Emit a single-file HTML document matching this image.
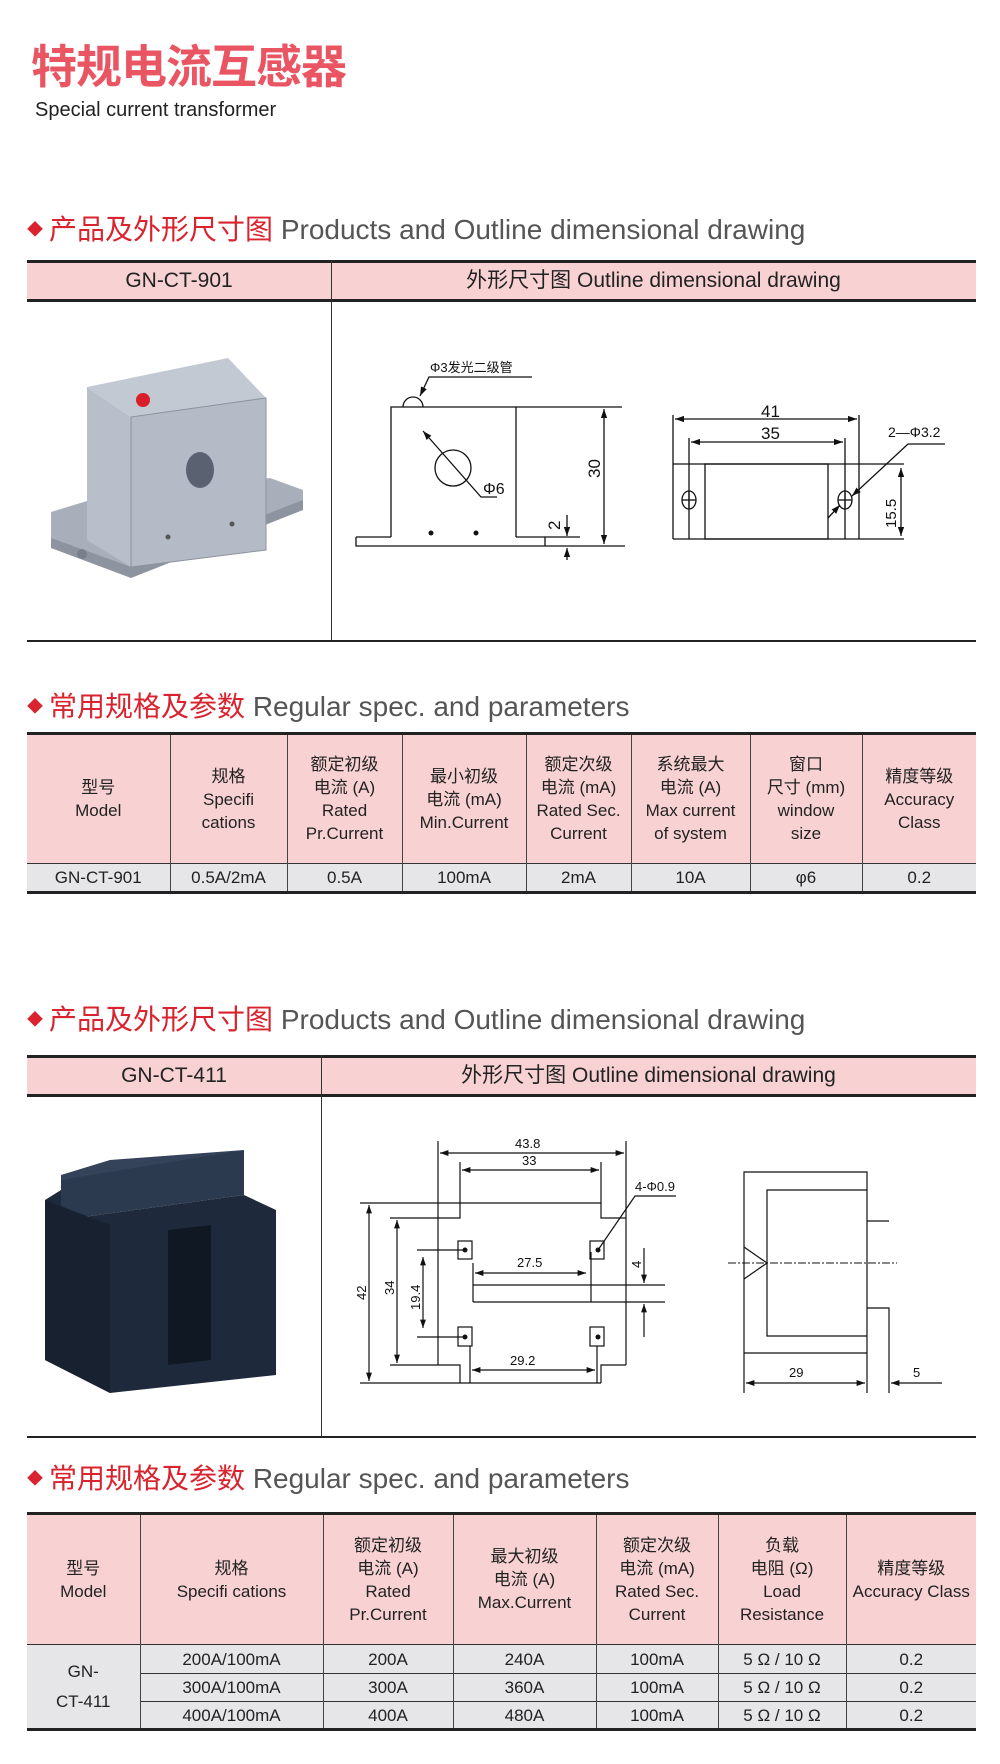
<!DOCTYPE html>
<html><head><meta charset="utf-8">
<style>
*{margin:0;padding:0;box-sizing:border-box}
body{width:1000px;height:1764px;background:#fff;position:relative;font-family:"Liberation Sans","Noto Sans CJK SC",sans-serif;overflow:hidden}
.abs{position:absolute}
.sec{position:absolute;left:27px;font-size:28px;white-space:nowrap;line-height:34px}
.sec .d{color:#d9232e;font-size:16px;vertical-align:4px;margin-right:6px}
.sec .cn{color:#d9232e}
.sec .en{color:#555}
.hb{position:absolute;text-align:center;font-size:21px;color:#222;line-height:36px;height:36px}
table{position:absolute;left:27px;width:949px;border-collapse:collapse;table-layout:fixed;border-top:3px solid #222;border-bottom:3px solid #222}
td{border-left:1px solid #444;border-right:1px solid #444;text-align:center;color:#222;font-size:17px;line-height:23px;padding:0}
td:first-child{border-left:none}td:last-child{border-right:none}
tr.h td{background:#f8d2d2}
tr.r td{background:#e6e6e8;border-top:1px solid #333}
</style></head><body>
<div class="abs" style="left:31px;top:37px;font-size:46px;color:#ea5563;font-weight:bold;font-family:'Noto Sans CJK SC',sans-serif;letter-spacing:-1px;line-height:54px">特规电流互感器</div>
<div class="abs" style="left:35px;top:99px;font-size:20px;color:#222">Special current transformer</div>

<div class="sec" style="top:213px"><span class="d">◆</span><span class="cn">产品及外形尺寸图</span> <span class="en">Products and Outline dimensional drawing</span></div>
<div class="sec" style="top:690px"><span class="d">◆</span><span class="cn">常用规格及参数</span> <span class="en">Regular spec. and parameters</span></div>
<div class="sec" style="top:1003px"><span class="d">◆</span><span class="cn">产品及外形尺寸图</span> <span class="en">Products and Outline dimensional drawing</span></div>
<div class="sec" style="top:1462px"><span class="d">◆</span><span class="cn">常用规格及参数</span> <span class="en">Regular spec. and parameters</span></div>

<!-- header bars -->
<div class="abs" style="left:27px;top:260px;width:949px;height:42px;background:#f8d2d2;border-top:3px solid #222;border-bottom:3px solid #222"></div>
<div class="hb" style="left:27px;top:263px;width:304px">GN-CT-901</div>
<div class="hb" style="left:331px;top:263px;width:645px">外形尺寸图 Outline dimensional drawing</div>
<div class="abs" style="left:331px;top:260px;width:1px;height:381px;background:#333"></div>
<div class="abs" style="left:27px;top:640px;width:949px;height:2px;background:#222"></div>

<div class="abs" style="left:27px;top:1055px;width:949px;height:42px;background:#f8d2d2;border-top:3px solid #222;border-bottom:3px solid #222"></div>
<div class="hb" style="left:27px;top:1058px;width:294px">GN-CT-411</div>
<div class="hb" style="left:321px;top:1058px;width:655px">外形尺寸图 Outline dimensional drawing</div>
<div class="abs" style="left:321px;top:1055px;width:1px;height:382px;background:#333"></div>
<div class="abs" style="left:27px;top:1436px;width:949px;height:2px;background:#222"></div>

<table style="top:732px">
<colgroup><col style="width:143px"><col style="width:117px"><col style="width:115px"><col style="width:124px"><col style="width:105px"><col style="width:119px"><col style="width:112px"><col style="width:114px"></colgroup>
<tr class="h" style="height:130px"><td>型号<br>Model</td><td>规格<br>Specifi<br>cations</td><td>额定初级<br>电流 (A)<br>Rated<br>Pr.Current</td><td>最小初级<br>电流 (mA)<br>Min.Current</td><td>额定次级<br>电流 (mA)<br>Rated Sec.<br>Current</td><td>系统最大<br>电流 (A)<br>Max current<br>of system</td><td>窗口<br>尺寸 (mm)<br>window<br>size</td><td>精度等级<br>Accuracy<br>Class</td></tr>
<tr class="r" style="height:29px"><td>GN-CT-901</td><td>0.5A/2mA</td><td>0.5A</td><td>100mA</td><td>2mA</td><td>10A</td><td>φ6</td><td>0.2</td></tr>
</table>

<table style="top:1512px">
<colgroup><col style="width:113px"><col style="width:183px"><col style="width:130px"><col style="width:143px"><col style="width:122px"><col style="width:128px"><col style="width:130px"></colgroup>
<tr class="h" style="height:131px"><td>型号<br>Model</td><td>规格<br>Specifi cations</td><td>额定初级<br>电流 (A)<br>Rated<br>Pr.Current</td><td>最大初级<br>电流 (A)<br>Max.Current</td><td>额定次级<br>电流 (mA)<br>Rated Sec.<br>Current</td><td>负载<br>电阻 (Ω)<br>Load<br>Resistance</td><td>精度等级<br>Accuracy Class</td></tr>
<tr class="r" style="height:29px"><td rowspan="3" style="line-height:30px">GN-<br>CT-411</td><td>200A/100mA</td><td>200A</td><td>240A</td><td>100mA</td><td>5 Ω / 10 Ω</td><td>0.2</td></tr>
<tr class="r" style="height:28px"><td>300A/100mA</td><td>300A</td><td>360A</td><td>100mA</td><td>5 Ω / 10 Ω</td><td>0.2</td></tr>
<tr class="r" style="height:28px"><td>400A/100mA</td><td>400A</td><td>480A</td><td>100mA</td><td>5 Ω / 10 Ω</td><td>0.2</td></tr>
</table>

<svg class="abs" style="left:0;top:0" width="1000" height="1764" viewBox="0 0 1000 1764" font-family="Liberation Sans, Noto Sans CJK SC, sans-serif">
<defs><marker id="a" viewBox="0 0 10 10" refX="10" refY="5" markerWidth="7" markerHeight="7" orient="auto-start-reverse"><path d="M0,1.5 L10,5 L0,8.5z" fill="#111"/></marker></defs>

<!-- photo 1 -->
<polygon points="51,512 100,497 270,478 303,490 303,508 131,575 51,545" fill="#a9afba"/>
<polygon points="51,538 131,567 303,500 303,510 131,578 51,548" fill="#8e949f"/>
<polygon points="87,387 131,417 131,567 87,540" fill="#b9bfca"/>
<polygon points="87,387 228,358 266,398 131,417" fill="#c3c9d3"/>
<polygon points="131,417 266,398 266,550 131,567" fill="#b5bbc6" stroke="#8d939e"/>
<circle cx="143" cy="400" r="7" fill="#d81f2a"/>
<ellipse cx="200" cy="470" rx="14" ry="18" fill="#5a6170"/>
<circle cx="82" cy="554" r="5" fill="#7a808b"/><circle cx="168" cy="537" r="2.5" fill="#555"/><circle cx="232" cy="524" r="2.5" fill="#555"/>

<!-- drawing 1 left -->
<g stroke="#111" stroke-width="1.3" fill="none">
<polyline points="391,537 391,407 622,407"/>
<line x1="516" y1="407" x2="516" y2="537"/>
<polyline points="356,537 391,537"/><polyline points="356,537 356,546 625,546"/>
<line x1="516" y1="537" x2="580" y2="537"/>
<line x1="545" y1="537" x2="545" y2="546"/>
<line x1="604" y1="409" x2="604" y2="544" marker-start="url(#a)" marker-end="url(#a)"/>
<line x1="567" y1="515" x2="567" y2="536" marker-end="url(#a)"/>
<line x1="567" y1="560" x2="567" y2="548" marker-end="url(#a)"/>
<circle cx="453" cy="468" r="18"/>
<polyline points="423,431 481,497 497,497" marker-start="url(#a)"/>
<path d="M403,407 A10,10 0 0 1 423,407"/>
<polyline points="532,377 429,377 420,396" marker-end="url(#a)"/>
<!-- right -->
<line x1="673" y1="464" x2="904" y2="464"/><line x1="673" y1="539" x2="904" y2="539"/>
<line x1="673" y1="415" x2="673" y2="539"/><line x1="859" y1="415" x2="859" y2="539"/>
<rect x="705" y="464" width="123" height="75"/>
<line x1="675" y1="419" x2="857" y2="419" marker-start="url(#a)" marker-end="url(#a)"/>
<line x1="689" y1="438" x2="689" y2="539"/><line x1="845" y1="438" x2="845" y2="539"/>
<line x1="691" y1="442" x2="843" y2="442" marker-start="url(#a)" marker-end="url(#a)"/>
<ellipse cx="689" cy="500" rx="7" ry="9"/><line x1="682" y1="500" x2="696" y2="500"/><line x1="689" y1="492" x2="689" y2="508"/>
<ellipse cx="845" cy="500" rx="7" ry="9"/><line x1="838" y1="500" x2="852" y2="500"/><line x1="845" y1="492" x2="845" y2="508"/>
<polyline points="945,444 908,444 852,496" marker-end="url(#a)"/>
<line x1="828" y1="518" x2="840" y2="505" marker-end="url(#a)"/>
<line x1="901" y1="468" x2="901" y2="536" marker-start="url(#a)" marker-end="url(#a)"/>
</g>
<circle cx="431" cy="533" r="2.5" fill="#111"/><circle cx="476" cy="533" r="2.5" fill="#111"/>
<g fill="#111" font-size="14">
<text x="430" y="372" font-size="13">Φ3发光二级管</text>
<text x="483" y="494" font-size="16">Φ6</text>
<text x="0" y="0" font-size="17" transform="translate(600,478) rotate(-90)">30</text>
<text x="0" y="0" font-size="17" transform="translate(560,530) rotate(-90)">2</text>
<text x="761" y="417" font-size="17">41</text>
<text x="761" y="439" font-size="17">35</text>
<text x="888" y="437" font-size="14">2—Φ3.2</text>
<text x="0" y="0" font-size="15" transform="translate(896,528) rotate(-90)">15.5</text>
</g>

<!-- photo 2 -->
<polygon points="61,1175 244,1150 244,1195 61,1220" fill="#2c3a4f"/>
<polygon points="45,1200 61,1190 61,1220 244,1195 276,1210 276,1375 110,1393 45,1360" fill="#1e2a3b"/>
<polygon points="61,1175 110,1160 244,1150 61,1180" fill="#34435a"/>
<polygon points="168,1230 211,1225 211,1360 168,1365" fill="#101824"/>
<polygon points="45,1200 110,1225 110,1393 45,1360" fill="#17212f"/>

<!-- drawing 2 -->
<g stroke="#111" stroke-width="1.2" fill="none">
<line x1="438" y1="1141" x2="438" y2="1365"/><line x1="626" y1="1141" x2="626" y2="1365"/>
<line x1="440" y1="1153" x2="624" y2="1153" marker-start="url(#a)" marker-end="url(#a)"/>
<line x1="460" y1="1162" x2="460" y2="1203"/><line x1="601" y1="1162" x2="601" y2="1203"/>
<line x1="462" y1="1170" x2="599" y2="1170" marker-start="url(#a)" marker-end="url(#a)"/>
<line x1="360" y1="1203" x2="601" y2="1203"/>
<polyline points="601,1203 601,1218 626,1218"/>
<polyline points="390,1218 460,1218 460,1203"/>
<polyline points="390,1365 460,1365 460,1383"/>
<line x1="360" y1="1383" x2="601" y2="1383"/>
<polyline points="601,1383 601,1365 626,1365"/>
<line x1="369" y1="1205" x2="369" y2="1381" marker-start="url(#a)" marker-end="url(#a)"/>
<line x1="397" y1="1220" x2="397" y2="1363" marker-start="url(#a)" marker-end="url(#a)"/>
<line x1="423" y1="1257" x2="423" y2="1328" marker-start="url(#a)" marker-end="url(#a)"/>
<rect x="458" y="1241" width="14" height="18"/><rect x="590" y="1241" width="14" height="18"/>
<rect x="458" y="1327" width="14" height="19"/><rect x="590" y="1327" width="14" height="19"/>
<line x1="417" y1="1250" x2="465" y2="1250"/><line x1="417" y1="1337" x2="465" y2="1337"/>
<line x1="473" y1="1263" x2="473" y2="1302"/><line x1="591" y1="1252" x2="591" y2="1302"/>
<line x1="475" y1="1273" x2="586" y2="1273" marker-start="url(#a)" marker-end="url(#a)"/>
<line x1="473" y1="1285" x2="665" y2="1285"/><line x1="473" y1="1302" x2="665" y2="1302"/>
<line x1="644" y1="1248" x2="644" y2="1283" marker-end="url(#a)"/>
<line x1="644" y1="1337" x2="644" y2="1304" marker-end="url(#a)"/>
<line x1="470" y1="1346" x2="470" y2="1383"/><line x1="597" y1="1346" x2="597" y2="1383"/>
<line x1="472" y1="1370" x2="595" y2="1370" marker-start="url(#a)" marker-end="url(#a)"/>
<polyline points="676,1196 635,1196 598,1250"/>
<!-- right -->
<polyline points="744,1393 744,1172 867,1172 867,1393"/>
<polyline points="867,1190 767,1190 767,1336 867,1336"/>
<line x1="744" y1="1353" x2="867" y2="1353"/>
<line x1="867" y1="1221" x2="889" y2="1221"/>
<polyline points="867,1308 889,1308 889,1393"/>
<polyline points="744,1247 767,1263 744,1279"/>
<line x1="728" y1="1263" x2="897" y2="1263" stroke-dasharray="8,2,2,2" stroke-width="1"/>
<line x1="746" y1="1383" x2="865" y2="1383" marker-start="url(#a)" marker-end="url(#a)"/>
<line x1="942" y1="1383" x2="891" y2="1383" marker-end="url(#a)"/>
</g>
<g fill="#111">
<circle cx="465" cy="1250" r="2.5"/><circle cx="598" cy="1250" r="2.5"/><circle cx="465" cy="1337" r="2.5"/><circle cx="598" cy="1337" r="2.5"/>
</g>
<g fill="#111" font-size="13">
<text x="515" y="1148">43.8</text>
<text x="522" y="1165">33</text>
<text x="635" y="1191">4-Φ0.9</text>
<text x="517" y="1267">27.5</text>
<text x="510" y="1365">29.2</text>
<text x="789" y="1377">29</text>
<text x="913" y="1377">5</text>
<text transform="translate(366,1300) rotate(-90)">42</text>
<text transform="translate(394,1295) rotate(-90)">34</text>
<text transform="translate(420,1310) rotate(-90)">19.4</text>
<text transform="translate(641,1268) rotate(-90)">4</text>
</g>
</svg>
</body></html>
